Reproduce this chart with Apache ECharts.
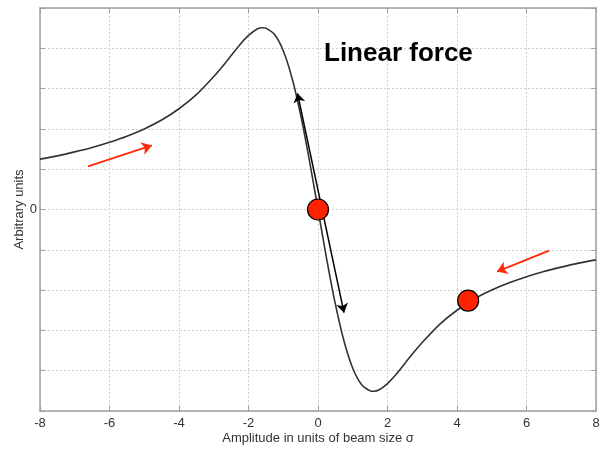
<!DOCTYPE html>
<html>
<head>
<meta charset="utf-8">
<script src="https://cdn.jsdelivr.net/npm/echarts@6/dist/echarts.min.js"></script>
<style>
  html, body { margin: 0; padding: 0; background: #fff; }
  #chart { width: 602px; height: 449px; }
</style>
</head>
<body>
<div id="chart"></div>
<script>
// Beam-beam force vs. amplitude
const amplitude = [-8, -7.5, -7, -6.5, -6, -5.5, -5, -4.5, -4, -3.5, -3, -2.75, -2.5, -2.25, -2, -1.75, -1.6, -1.5, -1.25, -1, -0.75, -0.5, -0.25,
  0, 0.25, 0.5, 0.75, 1, 1.25, 1.5, 1.6, 1.75, 2, 2.25, 2.5, 2.75, 3, 3.5, 4, 4.5, 5, 5.5, 6, 6.5, 7, 7.5, 8];
const force = [0.125, 0.133, 0.143, 0.154, 0.167, 0.182, 0.200, 0.222, 0.250, 0.285, 0.330, 0.355, 0.382, 0.409, 0.432, 0.448, 0.451, 0.450, 0.434, 0.394, 0.327, 0.235, 0.123,
  0, -0.123, -0.235, -0.327, -0.394, -0.434, -0.450, -0.451, -0.448, -0.432, -0.409, -0.382, -0.355, -0.330, -0.285, -0.250, -0.222, -0.200, -0.182, -0.167, -0.154, -0.143, -0.133, -0.125];

// working points on the curve
const workingPoints = [[0, 0], [4.32, -0.226]];
// linear-region double arrow (tangent at the origin)
const tangentArrow = [[-0.59, 0.288], [0.748, -0.256]];
// direction arrows from each side
const leftArrow = [[-6.62, 0.107], [-4.78, 0.159]];
const rightArrow = [[6.65, -0.102], [5.15, -0.154]];

const xTicks = { min: -8, max: 8, interval: 2 };
const yTicks = { min: -0.5, max: 0.5, interval: 0.1 };

const titleText = 'Linear force';
const xName = 'Amplitude in units of beam size σ';
const yName = 'Arbitrary units';

const curveData = amplitude.map((x, i) => [x, force[i]]);

const font = 'Liberation Sans, Arial, sans-serif';
const axisGray = '#a0a0a0';
const gridStyle = { show: true, lineStyle: { color: '#cfcfcf', type: [2, 2], width: 1 } };

const chart = echarts.init(document.getElementById('chart'), null, { renderer: 'canvas' });

chart.setOption({
  animation: false,
  backgroundColor: '#ffffff',
  title: {
    text: titleText,
    left: 319,
    top: 36,
    textStyle: { fontFamily: font, fontWeight: 'bold', fontSize: 26, color: '#000' }
  },
  grid: { left: 40, right: 6, top: 8, bottom: 38, containLabel: false, outerBoundsMode: 'none' },
  xAxis: [
    {
      type: 'value', position: 'bottom', min: xTicks.min, max: xTicks.max, interval: xTicks.interval,
      name: xName, nameLocation: 'middle', nameGap: 21, nameMoveOverlap: false,
      nameTextStyle: { fontFamily: font, fontSize: 13, color: '#333' },
      axisLine: { show: true, onZero: false, lineStyle: { color: axisGray, width: 1.5 } },
      axisTick: { show: true, inside: true, length: 5, lineStyle: { color: axisGray } },
      axisLabel: { fontFamily: font, fontSize: 13, color: '#333', margin: 6 },
      splitLine: gridStyle
    },
    {
      type: 'value', position: 'top', min: xTicks.min, max: xTicks.max, interval: xTicks.interval,
      axisLine: { show: true, onZero: false, lineStyle: { color: axisGray, width: 1.5 } },
      axisTick: { show: true, inside: true, length: 5, lineStyle: { color: axisGray } },
      axisLabel: { show: false },
      splitLine: { show: false }
    }
  ],
  yAxis: [
    {
      type: 'value', position: 'left', min: yTicks.min, max: yTicks.max, interval: yTicks.interval,
      name: yName, nameLocation: 'middle', nameGap: 14, nameRotate: 90, nameMoveOverlap: false,
      nameTextStyle: { fontFamily: font, fontSize: 13, color: '#333' },
      axisLine: { show: true, onZero: false, lineStyle: { color: axisGray, width: 1.5 } },
      axisTick: { show: true, inside: true, length: 5, lineStyle: { color: axisGray } },
      axisLabel: {
        fontFamily: font, fontSize: 13, color: '#333', margin: 3,
        formatter: v => (Math.abs(v) < 1e-9 ? '0' : '')
      },
      splitLine: gridStyle
    },
    {
      type: 'value', position: 'right', min: yTicks.min, max: yTicks.max, interval: yTicks.interval,
      axisLine: { show: true, onZero: false, lineStyle: { color: axisGray, width: 1.5 } },
      axisTick: { show: true, inside: true, length: 5, lineStyle: { color: axisGray } },
      axisLabel: { show: false },
      splitLine: { show: false }
    }
  ],
  series: [
    {
      type: 'line', data: curveData, showSymbol: false, smooth: 0.25,
      lineStyle: { color: '#333', width: 1.6 }, z: 2
    },
    {
      type: 'lines', coordinateSystem: 'cartesian2d', polyline: false,
      symbol: ['arrow', 'arrow'], symbolSize: 9,
      lineStyle: { color: '#000', width: 1.5, opacity: 1, curveness: 0 },
      data: [{ coords: tangentArrow }], z: 3
    },
    {
      type: 'lines', coordinateSystem: 'cartesian2d', polyline: false,
      symbol: ['none', 'arrow'], symbolSize: 10,
      lineStyle: { color: '#ff2a0a', width: 1.8, opacity: 1, curveness: 0 },
      data: [{ coords: leftArrow }, { coords: rightArrow }], z: 3
    },
    {
      type: 'scatter', data: workingPoints, symbol: 'circle', symbolSize: 21,
      itemStyle: { color: '#ff2200', borderColor: '#000', borderWidth: 1.2, opacity: 1 }, z: 4
    }
  ]
});
</script>
</body>
</html>
